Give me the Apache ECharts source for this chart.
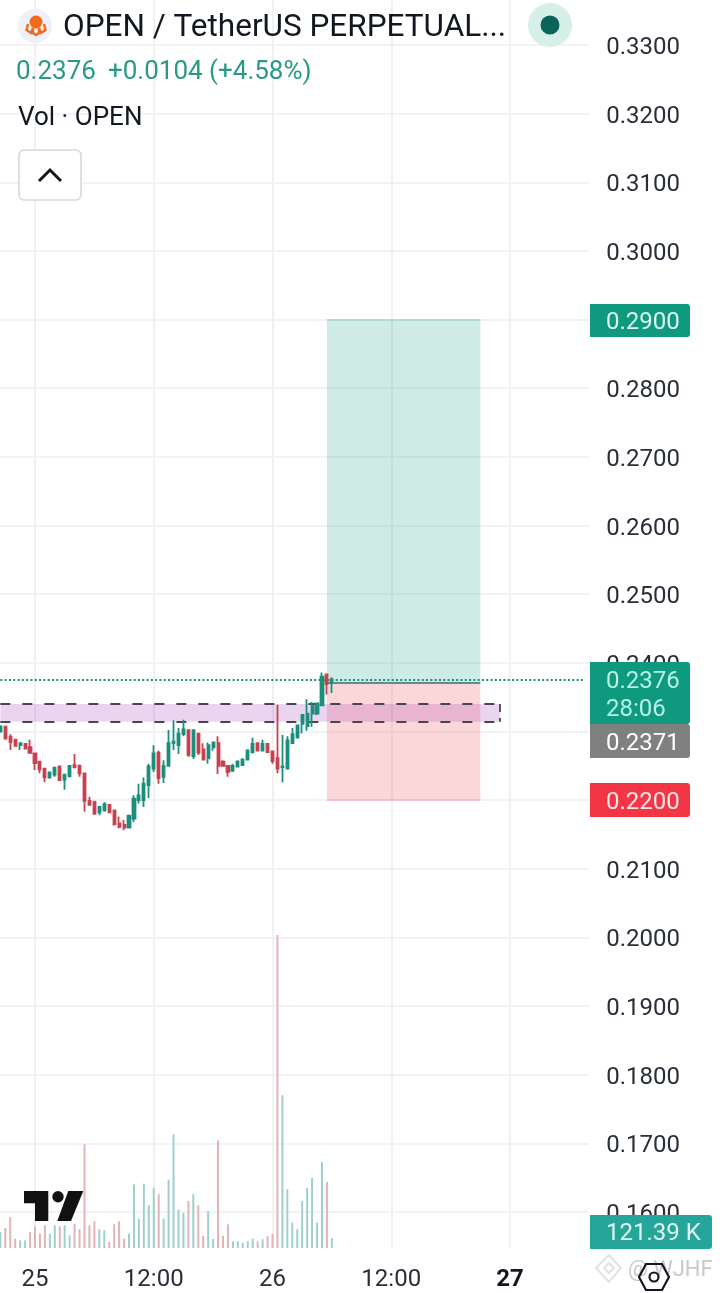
<!DOCTYPE html>
<html>
<head>
<meta charset="utf-8">
<style>html,body{margin:0;padding:0;background:#fff}#c{width:720px;height:1293px}</style>
<script src="https://cdn.jsdelivr.net/npm/echarts@6/dist/echarts.min.js"></script>
</head>
<body>
<div id="c"></div>
<script>
const opens  = [.2300,.2307,.2292,.2288,.2280,.2282,.2277,.2268,.2256,.2246,.2233,.2237,.2249,.2230,.2235,.2251,.2250,.2239,.2199,.2197,.2182,.2185,.2193,.2185,.2166,.2164,.2160,.2173,.2200,.2200,.2222,.2246,.2269,.2234,.2250,.2283,.2280,.2296,.2302,.2264,.2297,.2274,.2261,.2277,.2283,.2256,.2250,.2243,.2249,.2251,.2259,.2270,.2283,.2272,.2282,.2271,.2261,.2248,.2246,.2283,.2291,.2311,.2308,.2326,.2326,.2338,.2383,.2371];
const closes = [.2307,.2290,.2285,.2279,.2283,.2275,.2269,.2254,.2245,.2233,.2240,.2247,.2229,.2237,.2250,.2248,.2239,.2199,.2193,.2180,.2190,.2194,.2182,.2165,.2161,.2160,.2177,.2202,.2207,.2224,.2249,.2268,.2232,.2250,.2283,.2285,.2297,.2303,.2266,.2302,.2269,.2259,.2280,.2284,.2250,.2250,.2241,.2250,.2256,.2259,.2272,.2282,.2272,.2282,.2270,.2257,.2246,.2249,.2287,.2296,.2309,.2324,.2326,.2337,.2341,.2380,.2369,.2376];
const lows   = [.2298,.2288,.2273,.2278,.2273,.2274,.2268,.2244,.2239,.2226,.2231,.2234,.2228,.2215,.2233,.2246,.2234,.2183,.2192,.2179,.2178,.2183,.2181,.2163,.2159,.2156,.2159,.2168,.2195,.2190,.2203,.2241,.2224,.2225,.2249,.2273,.2267,.2293,.2263,.2260,.2266,.2258,.2253,.2272,.2238,.2250,.2234,.2241,.2248,.2251,.2258,.2268,.2271,.2271,.2270,.2253,.2239,.2226,.2245,.2282,.2290,.2297,.2301,.2307,.2324,.2338,.2354,.2356];
const highs  = [.2309,.2308,.2296,.2288,.2283,.2283,.2288,.2269,.2257,.2247,.2242,.2249,.2250,.2238,.2251,.2267,.2252,.2240,.2205,.2199,.2191,.2197,.2194,.2186,.2176,.2171,.2179,.2207,.2224,.2233,.2253,.2280,.2272,.2258,.2302,.2316,.2305,.2317,.2303,.2303,.2297,.2283,.2284,.2285,.2293,.2258,.2251,.2253,.2258,.2261,.2274,.2291,.2284,.2288,.2282,.2272,.2339,.2295,.2293,.2305,.2309,.2325,.2347,.2343,.2342,.2386,.2384,.2379];
const volumes = [194,243,376,113,93,93,194,263,174,276,174,276,263,276,154,295,227,1259,276,324,227,215,73,288,324,113,174,773,356,781,518,728,652,356,829,1380,465,425,571,652,518,146,449,109,1307,146,288,81,81,64,81,113,81,106,146,170,3800,1854,713,307,227,571,728,850,307,1044,801,121.39];
const volumeUp = [1,0,0,0,1,1,0,0,0,0,1,1,0,1,1,0,0,0,0,0,1,1,0,0,0,0,1,1,1,1,1,1,0,1,1,1,1,1,0,1,0,0,1,1,0,0,0,1,1,1,1,1,0,1,0,0,0,1,1,1,1,1,1,1,1,1,0,1];
const slotCount = 120;
const tickSlots = [7,31,55,79,103];
const tickLabels = ['25','12:00','26','12:00','27'];
const priceTicks = [.33,.32,.31,.30,.29,.28,.27,.26,.25,.24,.23,.22,.21,.20,.19,.18,.17,.16];
const lastPrice = .2376, entryPrice = .2371, targetPrice = .29, stopPrice = .22;
const bandTop = .2340, bandBottom = .2314;
const positionStart = 66, positionEnd = 97, bandEnd = 101;

const categories = Array.from({length:slotCount},(_,i)=>{const k=tickSlots.indexOf(i);return k>=0?tickLabels[k]:'';});
const FONT = 'Roboto';
const UP='#1b8f7b', DOWN='#c8414f';
const dark='#4a4650';

function tag(x,y,w,h,color,lines){
  const out=[{type:'rect',z:100,shape:{x,y,width:w,height:h,r:[0,3,3,0]},style:{fill:color}}];
  lines.forEach(l=>out.push({type:'text',z:101,style:{text:l.t,x:606,y:l.y,fill:l.c,font:'24px '+FONT,textVerticalAlign:'middle',textBaseline:'middle'}}));
  return out;
}
const txt=(t,x,y,size,fill,weight)=>({type:'text',z:90,style:{text:t,x,y,fill,font:(weight||'normal')+' '+size+'px '+FONT,textVerticalAlign:'middle',textBaseline:'middle'}});

const graphics=[
  {type:'circle',z:90,shape:{cx:35,cy:26,r:17},style:{fill:'#eef1f7'}},
  {type:'circle',z:91,shape:{cx:36,cy:22,r:6.5},style:{fill:'#f26a1b'}},
  {type:'polyline',z:91,shape:{points:[[28,24],[26.5,30],[31,33],[33,28]]},style:{stroke:'#f26a1b',fill:'none',lineWidth:2.4}},
  {type:'polyline',z:91,shape:{points:[[44,24],[45.5,30],[41,33],[39,28]]},style:{stroke:'#f26a1b',fill:'none',lineWidth:2.4}},
  {type:'polyline',z:91,shape:{points:[[33,28],[33,33],[36,35],[39,33],[39,28]]},style:{stroke:'#f26a1b',fill:'none',lineWidth:2.4}},
  txt('OPEN / TetherUS PERPETUAL...',63,28,31.5,'#131722'),
  {type:'circle',z:90,shape:{cx:550,cy:25,r:22},style:{fill:'#d6efe9'}},
  {type:'circle',z:91,shape:{cx:550,cy:25,r:9.5},style:{fill:'#0b6458'}},
  txt('0.2376',16,72,26,'#2a9a86'),
  txt('+0.0104 (+4.58%)',108,72,26,'#2a9a86'),
  txt('Vol · OPEN',18,118,26,'#131722'),
  {type:'rect',z:90,shape:{x:19,y:150,width:62,height:50,r:5},style:{fill:'#fff',stroke:'#d8d8d8',lineWidth:1.6}},
  {type:'polyline',z:91,shape:{points:[[39,181],[50,170],[61,181]]},style:{stroke:'#131722',fill:'none',lineWidth:3}},
  {type:'polygon',z:90,shape:{points:[[24,1191],[48.3,1191],[48.3,1221],[35,1221],[35,1203.3],[24,1203.3]]},style:{fill:'#111'}},
  {type:'circle',z:90,shape:{cx:58,cy:1196.7,r:5.7},style:{fill:'#111'}},
  {type:'polygon',z:90,shape:{points:[[68.3,1191],[83.3,1191],[71,1221],[57.3,1221]]},style:{fill:'#111'}},
  ...tag(590,304,100,33,'#0f9a80',[{t:'0.2900',y:323,c:'#dff5ef'}]),
  ...tag(590,662,100,62,'#0f9a80',[{t:'0.2376',y:682,c:'#b5f2e4'},{t:'28:06',y:710,c:'#b5f2e4'}]),
  ...tag(590,724,100,34,'#808080',[{t:'0.2371',y:744,c:'#ffffff'}]),
  ...tag(590,783,100,34,'#f23645',[{t:'0.2200',y:803,c:'#fde4e6'}]),
  ...tag(590,1215,122,34,'#26a69a',[{t:'121.39 K',y:1234,c:'#dff5f2'}]),
  {type:'polygon',z:90,shape:{points:[[609,1255],[621,1268],[609,1282],[596,1268]]},style:{fill:'none',stroke:'#e2e2e2',lineWidth:2}},
  {type:'polygon',z:90,shape:{points:[[609,1263],[614,1268],[609,1273],[604,1268]]},style:{fill:'none',stroke:'#e2e2e2',lineWidth:2}},
  txt('@ WJHF',628,1270,22,'#c9c9c9'),
  {type:'polygon',z:95,shape:{points:[[646,1264],[662,1264],[669,1277],[662,1290],[646,1290],[639,1277]]},style:{fill:'none',stroke:'#131722',lineWidth:2.2}},
  {type:'circle',z:95,shape:{cx:654,cy:1277,r:4.5},style:{fill:'none',stroke:'#131722',lineWidth:2.2}}
];

const seg=(x0,y0,x1,y1,color,width,type)=>[{xAxis:x0,yAxis:y0,lineStyle:{color,width,type}},{xAxis:x1,yAxis:y1}];
const option={
  animation:false,
  backgroundColor:'#ffffff',
  textStyle:{fontFamily:FONT},
  grid:[
    {left:0.36,width:588.81,top:0,height:1248},
    {left:0.36,width:588.81,top:902,height:346}
  ],
  xAxis:[
    {type:'category',gridIndex:0,data:categories,boundaryGap:false,
      axisLine:{show:false},axisTick:{show:false},axisLabel:{show:false},
      splitLine:{show:true,interval:(i)=>tickSlots.includes(i),lineStyle:{color:'#f0f1f3',width:2}}},
    {type:'category',gridIndex:1,data:categories,boundaryGap:false,
      axisLine:{show:false},axisTick:{show:false},splitLine:{show:false},
      axisLabel:{show:true,interval:(i)=>tickSlots.includes(i),margin:20,fontSize:24,color:'#2a2e39',fontFamily:FONT,
        formatter:(v,i)=> i===tickSlots[tickSlots.length-1] ? '{b|'+v+'}' : v,
        rich:{b:{fontWeight:'bold',fontSize:24,color:'#131722',fontFamily:FONT}}}}
  ],
  yAxis:[
    {type:'value',gridIndex:0,position:'right',min:.154756,max:.336555,scale:true,
      axisLine:{show:false},
      axisTick:{show:false,customValues:priceTicks},
      splitLine:{show:true,lineStyle:{color:'#f3f3f5',width:2}},
      axisLabel:{show:true,customValues:priceTicks,margin:17,align:'left',showMinLabel:true,showMaxLabel:true,
        formatter:(v)=>'{p|'+v.toFixed(4)+'}',
        rich:{p:{fontSize:24,color:'#2a2e39',fontFamily:FONT,padding:[6,0,0,0]}}}},
    {type:'value',gridIndex:1,min:0,max:4200,show:false,splitLine:{show:false}}
  ],
  series:[
    {type:'candlestick',xAxisIndex:0,yAxisIndex:0,z:3,barWidth:2.6,
      data:opens.map((o,i)=>[o,closes[i],lows[i],highs[i]]),
      itemStyle:{color:UP,color0:DOWN,borderColor:UP,borderColor0:DOWN,borderWidth:1.8},
      markArea:{silent:true,z:1,data:[
        [{xAxis:positionStart,yAxis:targetPrice,itemStyle:{color:'rgba(8,153,129,0.2)'}},{xAxis:positionEnd,yAxis:entryPrice}],
        [{xAxis:positionStart,yAxis:entryPrice,itemStyle:{color:'rgba(242,54,69,0.2)'}},{xAxis:positionEnd,yAxis:stopPrice}],
        [{xAxis:0,yAxis:bandTop,itemStyle:{color:'rgba(156,39,176,0.2)'}},{xAxis:bandEnd,yAxis:bandBottom}]
      ]},
      markLine:{silent:true,z:2,symbol:'none',label:{show:false},animation:false,data:[
        seg(0,lastPrice,118,lastPrice,'#1b8f7b',2,[2,2.3]),
        seg(positionStart,entryPrice,positionEnd,entryPrice,'#5f8f86',2,'solid'),
        seg(positionStart,targetPrice,positionEnd,targetPrice,'#a8d6cb',1.5,'solid'),
        seg(positionStart,stopPrice,positionEnd,stopPrice,'#eeb6ba',1.5,'solid'),
        seg(0,bandTop,bandEnd,bandTop,dark,2,[10,12]),
        seg(0,bandBottom,bandEnd,bandBottom,dark,2,[10,12]),
        seg(bandEnd,bandTop,bandEnd,bandBottom,dark,1.8,[8,6])
      ]}
    },
    {type:'bar',xAxisIndex:1,yAxisIndex:1,z:2,barWidth:2,
      data:volumes.map((v,i)=>({value:v,itemStyle:{color:volumeUp[i]?'#9fd0cd':'#e3b3b5'}}))}
  ],
  graphic:{elements:graphics}
};
const chart=echarts.init(document.getElementById('c'),null,{renderer:'canvas',width:720,height:1293});
chart.setOption(option);
</script>
</body>
</html>
